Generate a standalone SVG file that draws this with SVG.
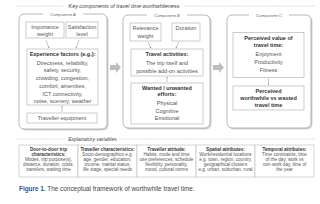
<svg xmlns="http://www.w3.org/2000/svg" width="320" height="204" viewBox="0 0 320 204">
<defs>
<marker id="ah" viewBox="0 0 6 6" refX="5" refY="3" markerWidth="3" markerHeight="3" orient="auto"><path d="M0,0 L6,3 L0,6 z" fill="#888"/></marker>
<style>
text{font-family:"Liberation Sans",Arial,sans-serif;fill:#555;}
.t{font-size:5.5px;text-anchor:middle;}
.b{font-weight:bold;fill:#333;}
.it{font-style:italic;fill:#444;}
.lbl{font-size:4.2px;text-anchor:middle;font-style:italic;fill:#666;}
.comp{fill:#fff;stroke:#999;stroke-width:0.7;}
.shadow{fill:#d4d4d4;}
.box{fill:#fff;stroke:#aaa;stroke-width:0.6;}
.dash{stroke:#aaa;stroke-width:0.5;stroke-dasharray:1.2,0.9;fill:none;}
.con{stroke:#888;stroke-width:0.5;fill:none;marker-end:url(#ah);}
.big{fill:#bdbdbd;}
.tb{font-size:4.6px;text-anchor:middle;}
.cell{fill:#fff;stroke:#aaa;stroke-width:0.5;}
</style>
</defs>
<rect width="320" height="204" fill="#fff"/>

<g id="header">
<line class="dash" x1="17" y1="6" x2="64" y2="6"/>
<line class="dash" x1="184" y1="6" x2="315" y2="6"/>
<text x="124" y="7.9" class="it" style="font-size:5.4px;text-anchor:middle">Key components of travel time worthwhileness</text>
</g>

<g id="componentA">
<rect class="shadow" x="20.5" y="15.5" width="88" height="115" rx="5"/>
<rect class="comp" x="19" y="14" width="88" height="115" rx="5"/>
<rect x="43" y="12" width="40" height="4" fill="#fff"/>
<text x="63" y="15.5" class="lbl">Component A</text>
</g>
<g id="importance">
<rect class="box" x="26" y="22" width="38" height="16"/>
<text x="45" y="29.2" class="t">Importance</text>
<text x="45" y="36" class="t">weight</text>
</g>
<g id="satisfaction">
<rect class="box" x="66" y="22" width="32" height="16"/>
<text x="82" y="29.2" class="t">Satisfaction</text>
<text x="82" y="36" class="t">level</text>
</g>
<g id="experience">
<rect class="box" x="27" y="49" width="71" height="56"/>
<text x="62.5" y="56" class="t b">Experience factors (e.g.):</text>
<text x="62.5" y="64.7" class="t">Directness, reliability,</text>
<text x="62.5" y="72.4" class="t">safety, security,</text>
<text x="62.5" y="80.1" class="t">crowding, congestion,</text>
<text x="62.5" y="87.8" class="t">comfort, amenities,</text>
<text x="62.5" y="95.5" class="t">ICT connectivity,</text>
<text x="62.5" y="103" class="t">noise, scenery, weather</text>
</g>
<g id="equipment">
<rect class="box" x="27" y="113" width="70" height="10"/>
<text x="62" y="119.6" class="t">Traveller equipment</text>
</g>

<g id="componentB">
<rect class="shadow" x="124.5" y="16.5" width="87" height="113" rx="5"/>
<rect class="comp" x="123" y="15" width="87" height="113" rx="5"/>
<rect x="147" y="13" width="40" height="4" fill="#fff"/>
<text x="167" y="16.5" class="lbl">Component B</text>
</g>
<g id="relevance">
<rect class="box" x="130" y="23" width="31" height="18"/>
<text x="145.5" y="30.3" class="t">Relevance</text>
<text x="145.5" y="37.5" class="t">weight</text>
</g>
<g id="duration">
<rect class="box" x="172" y="23" width="28" height="18"/>
<text x="186" y="30.3" class="t">Duration</text>
</g>
<g id="activities">
<rect class="box" x="131" y="49" width="72" height="27"/>
<text x="167" y="56.2" class="t b">Travel activities:</text>
<text x="167" y="65" class="t">The trip itself and</text>
<text x="167" y="72.6" class="t">possible add-on activities</text>
</g>
<g id="efforts">
<rect class="box" x="131" y="83" width="72" height="41"/>
<text x="167" y="89.6" class="t b">Wanted / unwanted</text>
<text x="167" y="96.2" class="t b">efforts:</text>
<text x="167" y="105.2" class="t">Physical</text>
<text x="167" y="112.6" class="t">Cognitive</text>
<text x="167" y="120.2" class="t">Emotional</text>
</g>

<g id="componentC">
<rect class="shadow" x="228.5" y="16.5" width="84" height="113" rx="5"/>
<rect class="comp" x="227" y="15" width="84" height="113" rx="5"/>
<rect x="249" y="13" width="40" height="4" fill="#fff"/>
<text x="269" y="16.5" class="lbl">Component C</text>
</g>
<g id="perceivedValue">
<rect class="box" x="233" y="32.5" width="71" height="45"/>
<text x="268.5" y="40.2" class="t b">Perceived value of</text>
<text x="268.5" y="47" class="t b">travel time:</text>
<text x="268.5" y="56.2" class="t">Enjoyment</text>
<text x="268.5" y="63.6" class="t">Productivity</text>
<text x="268.5" y="72" class="t">Fitness</text>
</g>
<g id="worthwhile">
<rect class="box" x="233" y="86" width="71" height="24"/>
<text x="268.5" y="92.5" class="t b">Perceived</text>
<text x="268.5" y="99.5" class="t b">worthwhile vs wasted</text>
<text x="268.5" y="106.5" class="t b">travel time</text>
</g>

<g id="connectors">
<line class="con" x1="46" y1="40" x2="49" y2="48"/>
<line class="con" x1="79" y1="40" x2="76" y2="48"/>
<line class="con" x1="62" y1="112" x2="62" y2="106"/>
<line class="con" x1="148" y1="42" x2="151" y2="48"/>
<line class="con" x1="179" y1="42" x2="176" y2="48"/>
<line class="con" x1="167" y1="82" x2="167" y2="77"/>
<line class="con" x1="268.5" y1="78.5" x2="268.5" y2="85"/>
<path class="big" d="M110,65 L116,65 L116,62 L121,67.5 L116,73 L116,70 L110,70 z"/>
<path class="big" d="M213,65 L219,65 L219,62 L224,67.5 L219,73 L219,70 L213,70 z"/>
</g>

<g id="explanatory">
<line class="dash" x1="17" y1="139" x2="66" y2="139"/>
<line class="dash" x1="119" y1="139" x2="315" y2="139"/>
<text x="92.5" y="140.8" class="it" style="font-size:5.1px;text-anchor:middle">Explanatory variables</text>
</g>

<g id="table">
<rect class="cell" x="19" y="145" width="59" height="32"/>
<rect class="cell" x="78" y="145" width="59" height="32"/>
<rect class="cell" x="137" y="145" width="59" height="32"/>
<rect class="cell" x="196" y="145" width="59" height="32"/>
<rect class="cell" x="255" y="145" width="59" height="32"/>
</g>
<g id="trip">
<text x="48.5" y="151.3" class="tb b">Door-to-door trip</text>
<text x="48.5" y="156.2" class="tb b">characteristics:</text>
<text x="48.5" y="161.1" class="tb">Modes, trip purpose(s),</text>
<text x="48.5" y="166" class="tb">distance, duration, costs,</text>
<text x="48.5" y="170.9" class="tb">transfers, waiting time</text>
</g>
<g id="traveller">
<text x="107.5" y="151.3" class="tb b">Traveller characteristics:</text>
<text x="107.5" y="156.2" class="tb">Socio-demographics e.g.</text>
<text x="107.5" y="161.1" class="tb">age, gender, education,</text>
<text x="107.5" y="166" class="tb">income, marital status,</text>
<text x="107.5" y="170.9" class="tb">life stage, special needs</text>
</g>
<g id="attitude">
<text x="166.5" y="151.3" class="tb b">Traveller attitude:</text>
<text x="166.5" y="156.2" class="tb">Habits, mode and time</text>
<text x="166.5" y="161.1" class="tb">use preferences, schedule</text>
<text x="166.5" y="166" class="tb">flexibility, personality,</text>
<text x="166.5" y="170.9" class="tb">mood, cultural norms</text>
</g>
<g id="spatial">
<text x="225.5" y="151.3" class="tb b">Spatial attributes:</text>
<text x="225.5" y="156.2" class="tb">Work/residential locations</text>
<text x="225.5" y="161.1" class="tb">e.g. town, region, country,</text>
<text x="225.5" y="166" class="tb">geographical clusters</text>
<text x="225.5" y="170.9" class="tb">e.g. urban, suburban, rural</text>
</g>
<g id="temporal">
<text x="284.5" y="151.3" class="tb b">Temporal attributes:</text>
<text x="284.5" y="156.2" class="tb">Time constraints, time</text>
<text x="284.5" y="161.1" class="tb">of the day, work vs</text>
<text x="284.5" y="166" class="tb">non-work day, time of</text>
<text x="284.5" y="170.9" class="tb">the year</text>
</g>

<g id="caption">
<text x="19" y="191" style="font-size:6.4px;fill:#444"><tspan style="font-weight:bold;fill:#1f5aa6">Figure 1.</tspan> The conceptual framework of worthwhile travel time.</text>
</g>
</svg>
